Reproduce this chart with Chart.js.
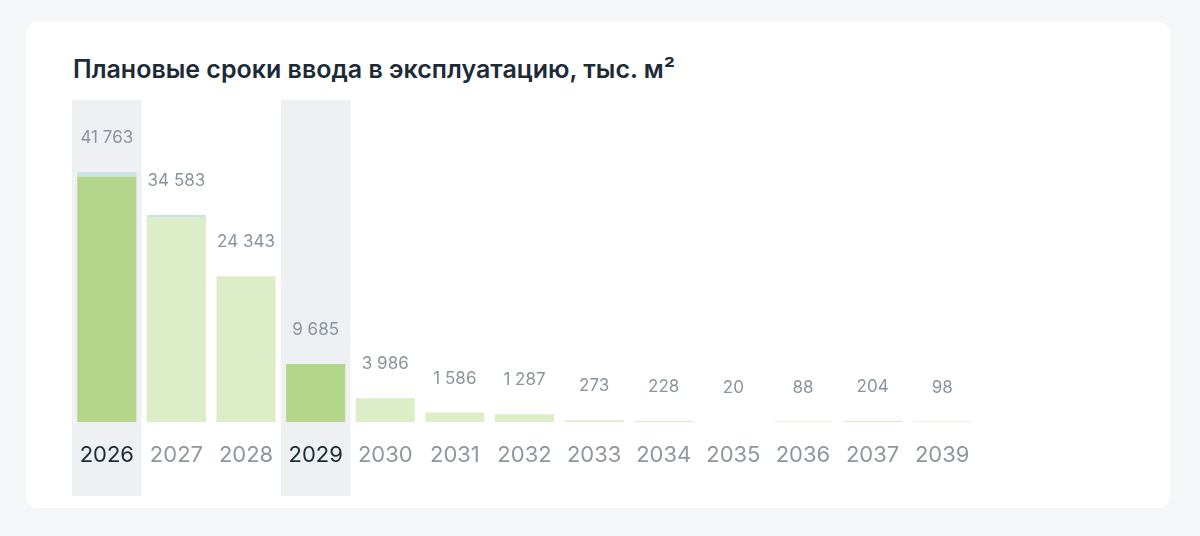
<!DOCTYPE html>
<html><head><meta charset="utf-8">
<script src="https://cdn.jsdelivr.net/npm/chart.js@4"></script>
<style>
html,body{margin:0;padding:0;background:#f5f6f8;width:1200px;height:536px;overflow:hidden;font-family:Inter,"Open Sans",sans-serif}
#card{position:absolute;left:26px;top:22px;width:1144px;height:486px;background:#fff;border-radius:12px}
#title{position:absolute;left:73px;top:54px;font-size:25px;font-weight:600;color:#1c2b36;letter-spacing:0px}
#wrap{position:absolute;left:0;top:0;width:1200px;height:536px}
</style></head><body>
<div id="card"></div>
<div id="title">Плановые сроки ввода в эксплуатацию, тыс. м²</div>
<div id="wrap"><canvas id="c"></canvas></div>
<script>
const categories=["2026","2027","2028","2029","2030","2031","2032","2033","2034","2035","2036","2037","2039"];
const totals=[41763,34583,24343,9685,3986,1586,1287,273,228,20,88,204,98];
const topPart=[800,450,0,0,0,0,0,0,0,0,0,0,0];
const highlighted=["2026","2029"];
const mainPart=totals.map((v,i)=>v-topPart[i]);
const isH=i=>highlighted.includes(categories[i]);
const bgPlugin={id:'bg',beforeDraw(ch){const {ctx,scales:{x}}=ch;const w=x.getPixelForValue(1)-x.getPixelForValue(0);
ctx.save();ctx.fillStyle='#eef0f4';categories.forEach((c,i)=>{if(isH(i)){const cx=x.getPixelForValue(i);ctx.fillRect(cx-w/2,100,w,396);}});ctx.restore();}};
const lblPlugin={id:'lbl',afterDatasetsDraw(ch){const {ctx,scales:{x,y}}=ch;ctx.save();ctx.font='17px Inter, sans-serif';ctx.fillStyle='#8a949b';ctx.textAlign='center';ctx.textBaseline='middle';
totals.forEach((v,i)=>{ctx.fillText(v.toLocaleString('ru-RU').replace(/\s/g,' '),x.getPixelForValue(i),y.getPixelForValue(v)-34);});ctx.restore();}};
new Chart(document.getElementById('c'),{type:'bar',
data:{labels:categories,datasets:[
{data:mainPart,backgroundColor:mainPart.map((v,i)=>isH(i)?'#b3d68a':'#dcedc8'),barPercentage:0.85,categoryPercentage:1,stack:'s'},
{data:topPart,backgroundColor:'#c9e4e6',barPercentage:0.85,categoryPercentage:1,stack:'s'}]},
options:{responsive:true,maintainAspectRatio:false,animation:false,
layout:{padding:{left:72,right:223,top:100,bottom:40}},
plugins:{legend:{display:false},tooltip:{enabled:false}},
scales:{y:{display:false,min:0,max:53790,stacked:true},
x:{stacked:true,grid:{display:false},border:{display:false},
afterFit(s){s.height=74;},
ticks:{padding:12,font:{size:22,family:'Inter, sans-serif'},color:c=>isH(c.index)?'#1c2b36':'#8d979e'}}}},
plugins:[bgPlugin,lblPlugin]});
</script></body></html>
